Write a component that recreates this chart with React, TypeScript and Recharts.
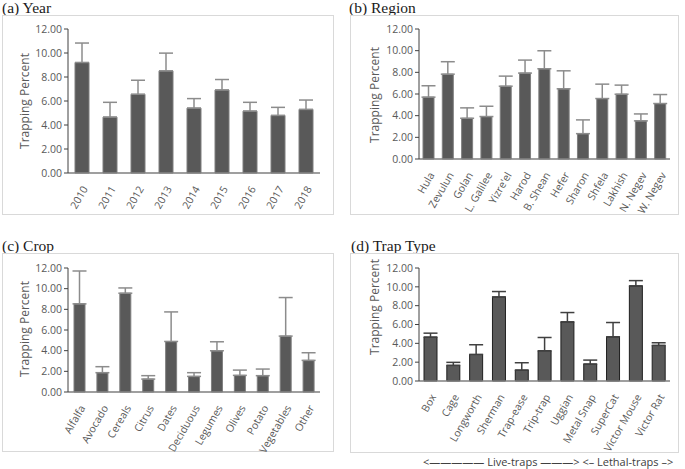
import React from 'react';
import { BarChart, Bar, XAxis, YAxis, ErrorBar, Label } from 'recharts';

// (a) Year
const years = ['2010', '2011', '2012', '2013', '2014', '2015', '2016', '2017', '2018'];
const yearValues = [9.21, 4.66, 6.56, 8.51, 5.41, 6.92, 5.16, 4.8, 5.3];
const yearErr = [1.62, 1.23, 1.17, 1.48, 0.79, 0.87, 0.73, 0.67, 0.78];

// (b) Region
const regions = ['Hula', 'Zevulun', 'Golan', 'L. Galilee', "Yizre'el", 'Harod', 'B. Shean', 'Hefer', 'Sharon', 'Shfela', 'Lakhish', 'N. Negev', 'W. Negev'];
const regionValues = [5.71, 7.83, 3.76, 3.92, 6.72, 7.93, 8.33, 6.48, 2.34, 5.58, 5.98, 3.52, 5.12];
const regionErr = [1.05, 1.15, 0.96, 0.95, 0.93, 1.2, 1.66, 1.66, 1.27, 1.33, 0.84, 0.64, 0.83];

// (c) Crop
const crops = ['Alfalfa', 'Avocado', 'Cereals', 'Citrus', 'Dates', 'Deciduous', 'Legumes', 'Olives', 'Potato', 'Vegetables', 'Other'];
const cropValues = [8.53, 1.87, 9.56, 1.25, 4.89, 1.51, 3.99, 1.61, 1.58, 5.41, 3.06];
const cropErr = [3.18, 0.58, 0.51, 0.33, 2.86, 0.36, 0.87, 0.51, 0.64, 3.73, 0.74];

// (d) Trap type
const traps = ['Box', 'Cage', 'Longworth', 'Sherman', 'Trap-ease', 'Trip-trap', 'Uggian', 'Metal Snap', 'SuperCat', 'Victor Mouse', 'Victor Rat'];
const trapValues = [4.66, 1.66, 2.82, 8.93, 1.16, 3.21, 6.28, 1.8, 4.69, 10.1, 3.78];
const trapErr = [0.42, 0.32, 1.03, 0.57, 0.78, 1.41, 0.99, 0.42, 1.52, 0.56, 0.28];

const yTicks = [0, 2, 4, 6, 8, 10, 12];

const FONT = '"Open Sans", sans-serif';
const SERIF = '"Liberation Serif", serif';
const TEXT = '#595959';

const build = (names: string[], vals: number[], errs: number[]) =>
  names.map((name, i) => ({ name, value: vals[i], err: [0, errs[i]] }));

const AngledTick = ({ x, y, payload }: any) => (
  <text
    transform={`translate(${x + 3},${y + 6}) rotate(-60)`}
    textAnchor="end"
    dy="0.35em"
    fill={TEXT}
    fontSize={10.5}
    fontFamily={FONT}
  >
    {payload.value}
  </text>
);

interface PanelProps {
  title: string;
  titlePos: { left: number; top: number };
  box: { left: number; top: number; width: number; height: number };
  chart: { left: number; top: number; width: number; height: number };
  marginTop: number;
  marginRight: number;
  yAxisWidth: number;
  xAxisHeight: number;
  barSize: number;
  labelPos: { x: number; y: number };
  data: any[];
  dark?: boolean;
}

const Panel = (p: PanelProps) => (
  <>
    <div
      style={{
        position: 'absolute',
        left: p.titlePos.left,
        top: p.titlePos.top,
        fontFamily: SERIF,
        fontSize: 15.5,
        lineHeight: '15px',
        color: '#1a1a1a',
        whiteSpace: 'nowrap',
      }}
    >
      {p.title}
    </div>
    <div
      style={{
        position: 'absolute',
        left: p.box.left,
        top: p.box.top,
        width: p.box.width - 2,
        height: p.box.height - 2,
        border: '1px solid #d9d9d9',
      }}
    />
    <div style={{ position: 'absolute', left: p.chart.left, top: p.chart.top }}>
      <BarChart
        width={p.chart.width}
        height={p.chart.height}
        data={p.data}
        margin={{ top: p.marginTop, right: p.marginRight, left: 0, bottom: 0 }}
        barSize={p.barSize}
      >
        <XAxis
          dataKey="name"
          interval={0}
          height={p.xAxisHeight}
          tick={<AngledTick />}
          tickLine={false}
          axisLine={{ stroke: '#7f7f7f', strokeWidth: 1.5 }}
        />
        <YAxis
          width={p.yAxisWidth}
          domain={[0, 12]}
          ticks={yTicks}
          interval={0}
          tickFormatter={(v: number) => v.toFixed(2)}
          tick={{ fill: TEXT, fontSize: 10.5, fontFamily: FONT }}
          tickSize={4}
          tickLine={{ stroke: '#404040' }}
          axisLine={{ stroke: '#404040' }}
        >
          <Label
            content={() => (
              <text
                x={p.labelPos.x}
                y={p.labelPos.y}
                transform={`rotate(-90 ${p.labelPos.x} ${p.labelPos.y})`}
                textAnchor="middle"
                dy="0.35em"
                fill={TEXT}
                fontSize={12}
                fontFamily={FONT}
              >
                Trapping Percent
              </text>
            )}
          />
        </YAxis>
        <Bar
          dataKey="value"
          fill="#595959"
          stroke={p.dark ? '#1f1f1f' : '#7f7f7f'}
          strokeWidth={1}
          isAnimationActive={false}
        >
          <ErrorBar
            dataKey="err"
            direction="y"
            width={7}
            stroke={p.dark ? '#404040' : '#8c8c8c'}
            strokeWidth={1.5}
          />
        </Bar>
      </BarChart>
    </div>
  </>
);

export default function App() {
  return (
    <div
      style={{
        position: 'absolute',
        left: 0,
        top: 0,
        width: 685,
        height: 469,
        background: '#fff',
        overflow: 'hidden',
      }}
    >
      <Panel
        title="(a) Year"
        titlePos={{ left: 2, top: 0 }}
        box={{ left: 2, top: 15, width: 332, height: 200 }}
        chart={{ left: 0, top: 0, width: 335, height: 235 }}
        marginTop={29}
        marginRight={15}
        yAxisWidth={68}
        xAxisHeight={62}
        barSize={14}
        labelPos={{ x: 25, y: 101 }}
        data={build(years, yearValues, yearErr)}
      />
      <Panel
        title="(b) Region"
        titlePos={{ left: 349, top: 0 }}
        box={{ left: 350, top: 15, width: 329, height: 200 }}
        chart={{ left: 345, top: 0, width: 335, height: 235 }}
        marginTop={29}
        marginRight={10}
        yAxisWidth={74}
        xAxisHeight={76}
        barSize={11}
        labelPos={{ x: 30, y: 95 }}
        data={build(regions, regionValues, regionErr)}
      />
      <Panel
        title="(c) Crop"
        titlePos={{ left: 2, top: 238 }}
        box={{ left: 2, top: 253, width: 332, height: 199 }}
        chart={{ left: 0, top: 235, width: 335, height: 234 }}
        marginTop={33}
        marginRight={15}
        yAxisWidth={68}
        xAxisHeight={77}
        barSize={11}
        labelPos={{ x: 25, y: 94 }}
        data={build(crops, cropValues, cropErr)}
      />
      <Panel
        title="(d) Trap Type"
        titlePos={{ left: 351, top: 238 }}
        box={{ left: 350, top: 253, width: 329, height: 200 }}
        chart={{ left: 345, top: 235, width: 335, height: 234 }}
        marginTop={33}
        marginRight={10}
        yAxisWidth={74}
        xAxisHeight={88}
        barSize={13}
        labelPos={{ x: 30, y: 72 }}
        data={build(traps, trapValues, trapErr)}
        dark
      />
      <div
        style={{
          position: 'absolute',
          left: 423,
          top: 455,
          fontFamily: FONT,
          fontSize: 11,
          lineHeight: '14px',
          color: '#404040',
          whiteSpace: 'nowrap',
        }}
      >
        {'<————— Live-traps ———> <– Lethal-traps –>'}
      </div>
    </div>
  );
}
